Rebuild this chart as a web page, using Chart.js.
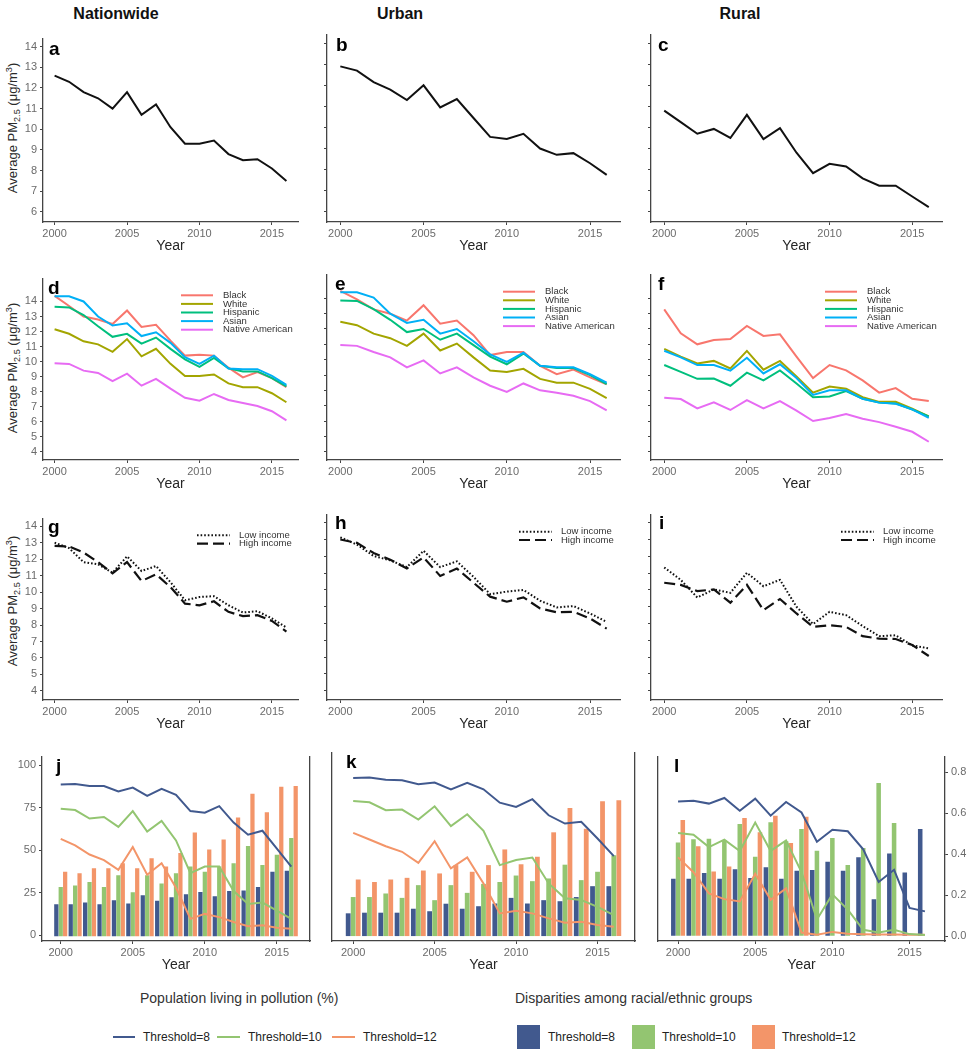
<!DOCTYPE html>
<html>
<head>
<meta charset="utf-8">
<script src="https://cdn.jsdelivr.net/npm/chart.js@4.4.1/dist/chart.umd.min.js"></script>
<style>
  body { margin: 0; width: 967px; height: 1050px; position: relative; overflow: hidden; background: #fff;
         font-family: "Liberation Sans", Arial, sans-serif; color: #222; }
  canvas { position: absolute; }
  .head { position: absolute; top: 5px; font-weight: bold; font-size: 16px; color: #111; transform: translateX(-50%); }
  .ytitle { position: absolute; white-space: nowrap; font-size: 13px; color: #2a2a2a;
            transform: translate(-50%, -50%) rotate(-90deg); }
  .ytitle sub, .ytitle sup { font-size: 70%; line-height: 0; position: relative; vertical-align: baseline; }
  .ytitle sub { top: 0.3em; }
  .ytitle sup { top: -0.5em; }
  .lg { position: absolute; font-size: 14px; color: #333; white-space: nowrap; }
  .it { position: absolute; font-size: 12px; color: #222; white-space: nowrap; line-height: 16px; }
  .sw { position: absolute; }
</style>
</head>
<body>
<div class="head" style="left:116px">Nationwide</div>
<div class="head" style="left:400px">Urban</div>
<div class="head" style="left:740px">Rural</div>

<div class="ytitle" style="left:12px;top:128px">Average PM<sub>2.5</sub> (μg/m<sup>3</sup>)</div>
<div class="ytitle" style="left:12px;top:368px">Average PM<sub>2.5</sub> (μg/m<sup>3</sup>)</div>
<div class="ytitle" style="left:12px;top:601px">Average PM<sub>2.5</sub> (μg/m<sup>3</sup>)</div>

<div class="lg" style="left:140px;top:990px">Population living in pollution (%)</div>
<div class="lg" style="left:515px;top:990px">Disparities among racial/ethnic groups</div>

<div class="sw" style="left:113px;top:1036px;width:22px;height:2px;background:#41598e"></div>
<div class="it" style="left:143px;top:1029px">Threshold=8</div>
<div class="sw" style="left:217px;top:1036px;width:23px;height:2px;background:#93c571"></div>
<div class="it" style="left:248px;top:1029px">Threshold=10</div>
<div class="sw" style="left:332px;top:1036px;width:23px;height:2px;background:#f39569"></div>
<div class="it" style="left:363px;top:1029px">Threshold=12</div>

<div class="sw" style="left:517px;top:1025px;width:23px;height:24px;background:#41598e"></div>
<div class="it" style="left:548px;top:1029px">Threshold=8</div>
<div class="sw" style="left:632px;top:1025px;width:23px;height:24px;background:#93c571"></div>
<div class="it" style="left:662px;top:1029px">Threshold=10</div>
<div class="sw" style="left:752px;top:1025px;width:23px;height:24px;background:#f39569"></div>
<div class="it" style="left:782px;top:1029px">Threshold=12</div>

<script>
// ---- data ----
const years = [2000, 2001, 2002, 2003, 2004, 2005, 2006, 2007, 2008, 2009, 2010, 2011, 2012, 2013, 2014, 2015, 2016];
const yearTicks = [2000, 2005, 2010, 2015];
const pmTicksTop = [6, 7, 8, 9, 10, 11, 12, 13, 14];
const pmTicksLow = [4, 5, 6, 7, 8, 9, 10, 11, 12, 13, 14];
const pctTicks = [0, 25, 50, 75, 100];
const dispTicks = [0, 0.2, 0.4, 0.6, 0.8];

// average PM2.5
const natAll = [12.6, 12.3, 11.8, 11.5, 11.0, 11.8, 10.7, 11.2, 10.1, 9.3, 9.3, 9.45, 8.8, 8.5, 8.55, 8.1, 7.5];
const urbAll = [12.9, 12.7, 12.15, 11.8, 11.3, 12.0, 10.95, 11.35, 10.45, 9.55, 9.45, 9.7, 9.0, 8.7, 8.78, 8.3, 7.75];
const rurAll = [10.8, 10.25, 9.7, 9.93, 9.5, 10.6, 9.45, 9.97, 8.8, 7.83, 8.27, 8.15, 7.58, 7.23, 7.23, 6.72, 6.22];

// by race / ethnicity
const raceNames = ['Black', 'White', 'Hispanic', 'Asian', 'Native American'];
const natBlack = [14.37, 13.7, 13.0, 12.8, 12.5, 13.4, 12.3, 12.45, 11.4, 10.4, 10.45, 10.4, 9.6, 8.95, 9.3, 8.9, 8.3];
const natWhite = [12.15, 11.85, 11.35, 11.15, 10.65, 11.5, 10.35, 10.85, 9.85, 9.05, 9.05, 9.15, 8.55, 8.3, 8.3, 7.9, 7.3];
const natHisp = [13.65, 13.6, 13.1, 12.35, 11.65, 11.85, 11.2, 11.6, 10.85, 10.15, 9.65, 10.25, 9.55, 9.35, 9.35, 8.9, 8.35];
const natAsian = [14.35, 14.35, 14.0, 13.0, 12.4, 12.55, 11.7, 11.95, 11.25, 10.3, 9.85, 10.4, 9.55, 9.5, 9.5, 9.05, 8.45];
const natNative = [9.9, 9.85, 9.4, 9.25, 8.7, 9.2, 8.4, 8.85, 8.2, 7.6, 7.4, 7.85, 7.45, 7.25, 7.05, 6.7, 6.1];

const urbBlack = [14.48, 13.93, 13.28, 13.0, 12.55, 13.55, 12.35, 12.55, 11.6, 10.3, 10.5, 10.5, 9.6, 9.05, 9.35, 8.85, 8.4];
const urbWhite = [12.47, 12.25, 11.7, 11.4, 10.9, 11.7, 10.6, 11.05, 10.15, 9.3, 9.2, 9.4, 8.75, 8.5, 8.5, 8.1, 7.5];
const urbHisp = [13.85, 13.83, 13.3, 12.6, 11.8, 12.0, 11.3, 11.7, 10.95, 10.2, 9.7, 10.4, 9.6, 9.45, 9.45, 9.0, 8.4];
const urbAsian = [14.4, 14.4, 14.05, 13.0, 12.4, 12.6, 11.7, 12.0, 11.2, 10.35, 9.85, 10.45, 9.6, 9.5, 9.5, 9.05, 8.5];
const urbNative = [10.95, 10.9, 10.5, 10.15, 9.5, 9.95, 9.1, 9.5, 8.85, 8.3, 7.9, 8.45, 8.0, 7.85, 7.65, 7.3, 6.7];

const rurBlack = [13.28, 11.72, 11.0, 11.28, 11.35, 12.2, 11.55, 11.65, 10.2, 8.8, 9.65, 9.3, 8.65, 7.85, 8.15, 7.45, 7.3];
const rurWhite = [10.7, 10.2, 9.75, 9.92, 9.43, 10.57, 9.35, 9.92, 8.9, 7.85, 8.25, 8.1, 7.55, 7.25, 7.25, 6.8, 6.3];
const rurHisp = [9.65, 9.2, 8.75, 8.77, 8.3, 9.15, 8.65, 9.3, 8.45, 7.55, 7.6, 7.95, 7.45, 7.2, 7.15, 6.75, 6.3];
const rurAsian = [10.58, 10.15, 9.65, 9.65, 9.28, 10.12, 9.1, 9.7, 8.8, 7.7, 8.0, 8.0, 7.45, 7.2, 7.13, 6.76, 6.2];
const rurNative = [7.52, 7.43, 6.82, 7.22, 6.72, 7.37, 6.82, 7.3, 6.68, 6.0, 6.2, 6.45, 6.15, 5.93, 5.63, 5.3, 4.65];

// by income
const natLow = [13.0, 12.67, 11.82, 11.68, 11.18, 12.17, 11.28, 11.58, 10.6, 9.5, 9.7, 9.75, 9.2, 8.76, 8.84, 8.4, 7.85];
const natHigh = [12.8, 12.77, 12.4, 11.82, 11.14, 11.82, 10.67, 11.08, 10.3, 9.3, 9.2, 9.44, 8.8, 8.54, 8.6, 8.25, 7.6];
const urbLow = [13.13, 12.7, 12.02, 11.76, 11.36, 12.33, 11.36, 11.7, 10.78, 9.75, 9.9, 10.0, 9.36, 8.96, 9.04, 8.6, 8.1];
const urbHigh = [13.0, 12.8, 12.2, 11.8, 11.28, 11.94, 10.83, 11.28, 10.43, 9.6, 9.3, 9.56, 8.9, 8.67, 8.7, 8.3, 7.7];
const rurLow = [11.34, 10.6, 9.55, 10.03, 9.83, 11.02, 10.22, 10.6, 9.0, 7.97, 8.7, 8.5, 7.85, 7.25, 7.3, 6.7, 6.52];
const rurHigh = [10.43, 10.3, 9.93, 10.03, 9.24, 10.3, 8.8, 9.46, 8.6, 7.8, 7.9, 7.8, 7.25, 7.1, 7.08, 6.72, 6.07];

// population living in pollution (%), thresholds 8 / 10 / 12
const natPct8 = [88.8, 89, 87.9, 87.9, 84.6, 86.9, 82.1, 86.2, 82.7, 73.1, 72.1, 76, 66.3, 59.2, 61.5, 51, 40.4];
const natPct10 = [74.4, 73.7, 68.7, 69.6, 63.8, 73.1, 61, 67.3, 55.8, 36.5, 40.4, 40.4, 26, 18.3, 19.2, 14.4, 9.6];
const natPct12 = [56.7, 52.9, 47.5, 44.2, 38.5, 51.9, 35.6, 42.3, 27.9, 9.6, 12.5, 10.6, 7.7, 5.2, 5.8, 4.4, 3.8];
const urbPct8 = [90.8, 91, 89.8, 89.4, 87.1, 88.1, 84.2, 87.9, 84.2, 76.5, 74, 78.5, 69.2, 64.4, 65.4, 55.8, 45.6];
const urbPct10 = [77.5, 76.7, 72.1, 72.5, 66.7, 74.4, 62.9, 69.8, 60.2, 40.4, 43.3, 44.8, 29.8, 21.2, 20.2, 16.3, 11.5];
const urbPct12 = [59, 55.2, 51.3, 48.1, 41.7, 54.2, 38.5, 44.8, 29.8, 12.5, 14, 12.5, 9.6, 7.1, 7.7, 5.8, 4.8];
const rurPct8 = [78.8, 79.2, 77.5, 80.8, 73.3, 80.4, 70.4, 78.5, 72.3, 55, 62.1, 61.2, 50.6, 31.3, 38.5, 16, 14];
const rurPct10 = [60.2, 59.2, 51.9, 56.3, 49.6, 66.3, 49.6, 55.8, 37.1, 9.2, 24, 15, 3.1, 1.5, 3.1, 0.6, 0];
const rurPct12 = [45.8, 37.1, 24.6, 21.2, 19.8, 36.2, 20.8, 27.5, 1.5, 0.2, 1.9, 0.8, 0.5, 0.3, 0.3, 0.2, 0.2];

// disparities among racial/ethnic groups (right axis)
const natDisp8 = [0.156, 0.156, 0.164, 0.156, 0.176, 0.16, 0.2, 0.173, 0.19, 0.205, 0.216, 0.195, 0.22, 0.223, 0.24, 0.315, 0.32];
const natDisp10 = [0.24, 0.248, 0.265, 0.24, 0.298, 0.215, 0.298, 0.257, 0.307, 0.34, 0.315, 0.34, 0.356, 0.44, 0.348, 0.398, 0.48];
const natDisp12 = [0.315, 0.307, 0.332, 0.332, 0.356, 0.332, 0.381, 0.34, 0.406, 0.506, 0.423, 0.472, 0.58, 0.696, 0.605, 0.73, 0.734];
const urbDisp8 = [0.109, 0.112, 0.112, 0.112, 0.131, 0.119, 0.155, 0.131, 0.143, 0.156, 0.183, 0.156, 0.172, 0.167, 0.187, 0.239, 0.239];
const urbDisp10 = [0.187, 0.187, 0.204, 0.183, 0.244, 0.172, 0.244, 0.207, 0.25, 0.259, 0.29, 0.263, 0.276, 0.342, 0.268, 0.308, 0.387];
const urbDisp12 = [0.271, 0.259, 0.271, 0.279, 0.314, 0.3, 0.34, 0.308, 0.34, 0.415, 0.344, 0.38, 0.497, 0.613, 0.514, 0.646, 0.651];
const rurDisp8 = [0.281, 0.281, 0.308, 0.28, 0.327, 0.284, 0.337, 0.28, 0.319, 0.323, 0.363, 0.319, 0.385, 0.18, 0.404, 0.311, 0.524];
const rurDisp10 = [0.457, 0.473, 0.476, 0.468, 0.548, 0.388, 0.556, 0.463, 0.524, 0.417, 0.479, 0.348, 0.431, 0.748, 0.553, 0, 0];
const rurDisp12 = [0.567, 0.439, 0.316, 0.34, 0.577, 0.508, 0.588, 0.455, 0.583, 0, 0, 0, 0, 0, 0, 0, 0];

// ---- styling ----
const C8 = '#41598e', C10 = '#93c571', C12 = '#f39569';
const raceColors = ['#F8766D', '#A3A500', '#00BF7D', '#00B0F6', '#E76BF3'];
const AX_W = 40, AX_H = 35, PAD_T = 6, PAD_R = 8;
const AXIS = '#444', TICK_TXT = '#6b6b6b';

Chart.defaults.font.family = '"Liberation Sans", Arial, sans-serif';

// bold panel letter in the top-left corner of the plot
Chart.register({
    id: 'panelTag',
    afterDraw(chart, args, opts) {
        if (!opts.text) return;
        const { ctx, chartArea } = chart;
        ctx.save();
        ctx.font = 'bold 19px "Liberation Sans", Arial, sans-serif';
        ctx.fillStyle = '#000';
        ctx.fillText(opts.text, chartArea.left + opts.dx, chartArea.top + opts.dy);
        ctx.restore();
    }
});

// small key drawn inside the plot, top right
Chart.register({
    id: 'innerKey',
    afterDatasetsDraw(chart, args, opts) {
        if (!opts.show) return;
        const { ctx, chartArea } = chart;
        chart.data.datasets.forEach((ds, i) => {
            const y = chartArea.top + opts.y0 + i * opts.step;
            const x = chartArea.right - opts.fromRight;
            ctx.save();
            ctx.strokeStyle = ds.borderColor;
            ctx.lineWidth = ds.borderWidth;
            ctx.setLineDash(ds.borderDash || []);
            ctx.beginPath();
            ctx.moveTo(x, y);
            ctx.lineTo(x + opts.len, y);
            ctx.stroke();
            ctx.setLineDash([]);
            ctx.fillStyle = '#333';
            ctx.font = '9.5px "Liberation Sans", Arial, sans-serif';
            ctx.textBaseline = 'middle';
            ctx.fillText(ds.label, x + opts.len + opts.gap, y);
            ctx.restore();
        });
    }
});

function pts(vals) {
    return years.map((yr, i) => ({ x: yr, y: vals[i] }));
}

function makeCanvas(left, top, w, h) {
    const c = document.createElement('canvas');
    c.width = w; c.height = h;
    c.style.left = left + 'px'; c.style.top = top + 'px';
    c.style.width = w + 'px'; c.style.height = h + 'px';
    document.body.appendChild(c);
    return c;
}

function xScale(min, max) {
    return {
        type: 'linear', min, max, offset: false,
        afterBuildTicks: s => { s.ticks = yearTicks.map(v => ({ value: v })); },
        afterFit: s => { s.height = AX_H; },
        grid: { drawOnChartArea: false, offset: false, tickLength: 3, tickColor: AXIS },
        border: { display: true, color: AXIS, width: 1.3 },
        ticks: { autoSkip: false, maxRotation: 0, padding: 2, color: TICK_TXT, font: { size: 11 }, callback: v => String(v) },
        title: { display: true, text: 'Year', color: '#262626', font: { size: 14 }, padding: { top: 0, bottom: 2 } }
    };
}

function yScale(min, max, tickVals, labels, o) {
    return {
        type: 'linear', min, max, position: o.position || 'left',
        afterBuildTicks: s => { s.ticks = tickVals.map(v => ({ value: v })); },
        afterFit: s => { s.width = AX_W; },
        grid: { display: o.marks, drawOnChartArea: false, tickLength: 3, tickColor: AXIS },
        border: { display: true, color: AXIS, width: 1.3 },
        ticks: { display: labels, autoSkip: false, padding: 3, color: TICK_TXT, font: { size: 11 },
                 callback: o.fmt || (v => String(v)) }
    };
}

function linePanel(box, yMin, yMax, yTicks, showLabels, datasets, tag, key) {
    const w = box.r - box.l + AX_W + PAD_R;
    const h = box.b - box.t + PAD_T + AX_H;
    const cv = makeCanvas(box.l - AX_W, box.t - PAD_T, w, h);
    new Chart(cv, {
        type: 'line',
        data: { datasets },
        options: {
            responsive: false, animation: false, devicePixelRatio: 1,
            layout: { padding: { top: PAD_T, right: PAD_R, left: 0, bottom: 0 } },
            plugins: { legend: { display: false }, tooltip: { enabled: false }, panelTag: tag, innerKey: key || { show: false } },
            scales: {
                x: xScale(1999.2, 2016.8),
                y: yScale(yMin, yMax, yTicks, showLabels, { marks: true })
            }
        }
    });
}

function barPanel(box, pct, disp, tag, o) {
    const w = box.r - box.l + AX_W * 2;
    const h = box.b - box.t + PAD_T + AX_H;
    const cv = makeCanvas(box.l - AX_W, box.t - PAD_T, w, h);
    const cols = [C8, C10, C12];
    const lines = pct.map((v, i) => ({ type: 'line', data: pts(v), borderColor: cols[i], borderWidth: 2,
        pointRadius: 0, yAxisID: 'y', order: 0 }));
    const bars = disp.map((v, i) => ({ type: 'bar', data: pts(v), backgroundColor: cols[i], borderWidth: 0,
        yAxisID: 'y1', order: 1, categoryPercentage: 0.92, barPercentage: 0.96 }));
    new Chart(cv, {
        type: 'bar',
        data: { datasets: lines.concat(bars) },
        options: {
            responsive: false, animation: false, devicePixelRatio: 1,
            layout: { padding: { top: PAD_T, right: 0, left: 0, bottom: 0 } },
            plugins: { legend: { display: false }, tooltip: { enabled: false }, panelTag: tag },
            scales: {
                x: xScale(1998.7, 2017.3),
                y: yScale(-3.47, 105.2, o.left ? pctTicks : [], o.left, { marks: o.left }),
                y1: yScale(-0.0236, 0.877, o.right ? dispTicks : [], o.right,
                    { position: 'right', marks: o.right, fmt: v => v.toFixed(1) })
            }
        }
    });
}

function raceSets(vals) {
    return vals.map((v, i) => ({ label: raceNames[i], data: pts(v), borderColor: raceColors[i], borderWidth: 2,
        pointRadius: 0, order: 5 - i }));
}
function incomeSets(low, high) {
    return [
        { label: 'Low income', data: pts(low), borderColor: '#111', borderWidth: 2, borderDash: [1.6, 2], pointRadius: 0 },
        { label: 'High income', data: pts(high), borderColor: '#111', borderWidth: 2.2, borderDash: [11, 5], pointRadius: 0 }
    ];
}
function single(vals) {
    return [{ data: pts(vals), borderColor: '#111', borderWidth: 2, pointRadius: 0 }];
}

const cols = [{ l: 43, r: 298 }, { l: 327, r: 620 }, { l: 651, r: 942 }];
const rows = [{ t: 35, b: 222 }, { t: 275, b: 460 }, { t: 515, b: 700 }];
const box = (c, r) => ({ l: cols[c].l, r: cols[c].r, t: rows[r].t, b: rows[r].b });

const raceKey = { show: true, fromRight: 117, len: 32, gap: 10, y0: 16.7, step: 8.6 };
const incKey = { show: true, fromRight: 101, len: 33, gap: 9, y0: 16.7, step: 8.3 };

linePanel(box(0, 0), 5.51, 14.39, pmTicksTop, true, single(natAll), { text: 'a', dx: 6, dy: 16 });
linePanel(box(1, 0), 5.51, 14.39, pmTicksTop, false, single(urbAll), { text: 'b', dx: 9, dy: 16 });
linePanel(box(2, 0), 5.51, 14.39, pmTicksTop, false, single(rurAll), { text: 'c', dx: 7, dy: 16 });

linePanel(box(0, 1), 3.46, 15.52, pmTicksLow, true, raceSets([natBlack, natWhite, natHisp, natAsian, natNative]), { text: 'd', dx: 5, dy: 15 }, raceKey);
linePanel(box(1, 1), 3.46, 15.52, pmTicksLow, false, raceSets([urbBlack, urbWhite, urbHisp, urbAsian, urbNative]), { text: 'e', dx: 8, dy: 15 }, raceKey);
linePanel(box(2, 1), 3.46, 15.52, pmTicksLow, false, raceSets([rurBlack, rurWhite, rurHisp, rurAsian, rurNative]), { text: 'f', dx: 7, dy: 15 }, raceKey);

linePanel(box(0, 2), 3.45, 14.46, pmTicksLow, true, incomeSets(natLow, natHigh), { text: 'g', dx: 5, dy: 14 }, incKey);
linePanel(box(1, 2), 3.45, 14.46, pmTicksLow, false, incomeSets(urbLow, urbHigh), { text: 'h', dx: 8, dy: 14 }, incKey);
linePanel(box(2, 2), 3.45, 14.46, pmTicksLow, false, incomeSets(rurLow, rurHigh), { text: 'i', dx: 8, dy: 14 }, incKey);

barPanel({ l: 42, r: 310, t: 753, b: 941 }, [natPct8, natPct10, natPct12], [natDisp8, natDisp10, natDisp12], { text: 'j', dx: 14, dy: 15 }, { left: true, right: false });
barPanel({ l: 332, r: 635, t: 753, b: 941 }, [urbPct8, urbPct10, urbPct12], [urbDisp8, urbDisp10, urbDisp12], { text: 'k', dx: 14, dy: 15 }, { left: false, right: false });
barPanel({ l: 658, r: 945, t: 753, b: 941 }, [rurPct8, rurPct10, rurPct12], [rurDisp8, rurDisp10, rurDisp12], { text: 'l', dx: 16, dy: 15 }, { left: false, right: true });
</script>
</body>
</html>
